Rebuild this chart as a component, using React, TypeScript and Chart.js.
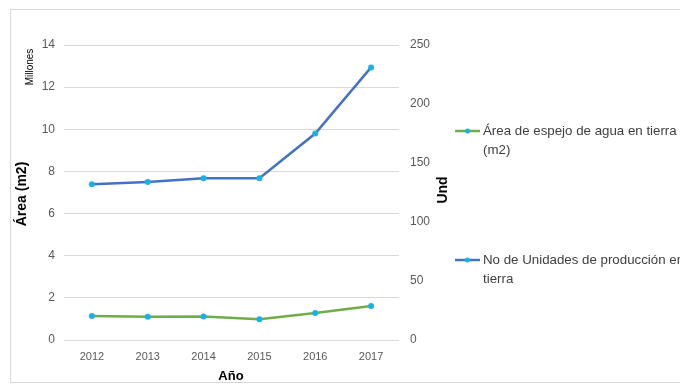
import React, { useEffect, useRef } from "react";
import { Chart, registerables } from "chart.js";

Chart.register(...registerables);

const years = ["2012", "2013", "2014", "2015", "2016", "2017"];
const areaMillones = [1.14, 1.1, 1.12, 0.99, 1.28, 1.61];
const unidades = [132, 134, 137, 137, 175, 231];
const areaLabel = "Área de espejo de agua en tierra (m2)";
const unidadesLabel = "No de Unidades de producción en tierra";

const GREEN = "#70AD47";
const BLUE = "#4472C4";
const MARKER = "#1CB0E9";
const FONT = "'Liberation Sans', Arial, sans-serif";

const overlay = {
  id: "overlay",
  afterDraw(chart: any) {
    const ctx = chart.ctx as CanvasRenderingContext2D;
    ctx.save();
    // outer border
    ctx.strokeStyle = "#D9D9D9";
    ctx.lineWidth = 1;
    ctx.strokeRect(10.5, 9.5, 700, 373);

    // axis titles
    ctx.fillStyle = "#000";
    ctx.textAlign = "center";
    ctx.textBaseline = "middle";
    const rot = (text: string, x: number, y: number, font: string) => {
      ctx.save();
      ctx.translate(x, y);
      ctx.rotate(-Math.PI / 2);
      ctx.font = font;
      ctx.fillText(text, 0, 0);
      ctx.restore();
    };
    rot("Millones", 30, 67, `10px ${FONT}`);
    rot("Área (m2)", 22, 194, `bold 14px ${FONT}`);
    rot("Und", 443, 190, `bold 14px ${FONT}`);
    ctx.font = `bold 13px ${FONT}`;
    ctx.fillText("Año", 231, 376);

    // legend
    const item = (color: string, y: number, l1: string, l2: string) => {
      ctx.strokeStyle = color;
      ctx.lineWidth = 2.5;
      ctx.beginPath();
      ctx.moveTo(455, y);
      ctx.lineTo(480, y);
      ctx.stroke();
      ctx.fillStyle = MARKER;
      ctx.beginPath();
      ctx.arc(467.5, y, 2.5, 0, Math.PI * 2);
      ctx.fill();
      ctx.fillStyle = "#404040";
      ctx.font = `13.3px ${FONT}`;
      ctx.textAlign = "left";
      ctx.fillText(l1, 483, y);
      ctx.fillText(l2, 483, y + 19);
    };
    item(GREEN, 131, "Área de espejo de agua en tierra", "(m2)");
    item(BLUE, 260, "No de Unidades de producción en", "tierra");
    ctx.restore();
  },
};

export default function App() {
  const ref = useRef<HTMLCanvasElement>(null);
  useEffect(() => {
    if (!ref.current) return;
    const chart = new Chart(ref.current, {
      type: "line",
      data: {
        labels: years,
        datasets: [
          {
            label: areaLabel,
            data: areaMillones,
            yAxisID: "y",
            borderColor: GREEN,
            backgroundColor: MARKER,
            pointBackgroundColor: MARKER,
            pointBorderColor: MARKER,
            pointBorderWidth: 0,
            borderWidth: 2.5,
            pointRadius: 3,
            tension: 0,
          },
          {
            label: unidadesLabel,
            data: unidades,
            yAxisID: "y1",
            borderColor: BLUE,
            backgroundColor: MARKER,
            pointBackgroundColor: MARKER,
            pointBorderColor: MARKER,
            pointBorderWidth: 0,
            borderWidth: 2.5,
            pointRadius: 3,
            tension: 0,
          },
        ],
      },
      options: {
        responsive: false,
        animation: false,
        layout: { padding: { top: 45, left: 0, right: 0, bottom: 0 } },
        plugins: { legend: { display: false }, tooltip: { enabled: false } },
        scales: {
          x: {
            offset: true,
            grid: { display: false, drawTicks: false },
            border: { display: false },
            ticks: { color: "#595959", font: { family: FONT, size: 11 }, padding: 10 },
            afterFit: (s: any) => { s.height = 44; },
          },
          y: {
            position: "left",
            min: 0,
            max: 14,
            ticks: { stepSize: 2, color: "#595959", font: { family: FONT, size: 12 }, padding: 9 },
            grid: { color: "#D9D9D9", drawTicks: false },
            border: { display: false },
            afterFit: (s: any) => { s.width = 64; },
          },
          y1: {
            position: "right",
            min: 0,
            max: 250,
            ticks: { stepSize: 50, color: "#595959", font: { family: FONT, size: 12 }, padding: 11 },
            grid: { display: false, drawTicks: false },
            border: { display: false },
            afterFit: (s: any) => { s.width = 281; },
          },
        },
      },
      plugins: [overlay],
    });
    return () => chart.destroy();
  }, []);
  return (
    <div style={{ position: "fixed", left: 0, top: 0, width: 680, height: 384, background: "#fff" }}>
      <canvas ref={ref} width={680} height={384} />
    </div>
  );
}
